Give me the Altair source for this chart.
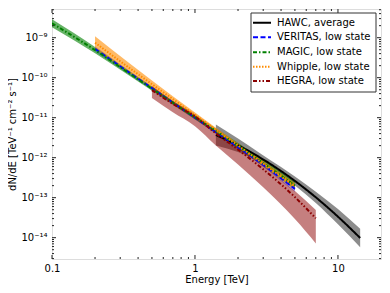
import altair as alt
import pandas as pd

# ---------------- data ----------------
names = ["HAWC, average", "VERITAS, low state", "MAGIC, low state",
         "Whipple, low state", "HEGRA, low state"]
line_colors = ["#000000", "#0000ff", "#008000", "#ff8c00", "#8b0000"]
band_colors = ["#000000", "#0000ff", "#008000", "#ff8c00", "#8b0000"]
band_opacity = [0.45, 0.3, 0.6, 0.6, 0.5]
dashes = [[1, 0], [5, 2.5], [4, 2, 1.5, 2], [1.5, 1.5], [4, 2, 1.5, 2, 1.5, 2]]

hawc_E = [1.4, 2.0, 2.85, 4.0, 5.0, 7.0, 10.0, 14.3]
hawc_F = [3.69e-12, 2.04e-12, 1.007e-12, 4.62e-13, 2.62e-13, 1.02e-13, 3.35e-14, 9.83e-15]
hawc_hi = [6.72e-12, 3.01e-12, 1.30e-12, 5.82e-13, 3.37e-13, 1.41e-13, 5.19e-14, 1.67e-14]
hawc_lo = [2.03e-12, 1.38e-12, 7.82e-13, 3.67e-13, 2.03e-13, 7.38e-14, 2.16e-14, 5.79e-15]

veritas_E = [0.2, 0.35, 0.7, 1.4, 2.8, 5.0]
veritas_F = [5.25e-10, 1.318e-10, 2.40e-11, 4.37e-12, 7.94e-13, 1.66e-13]
veritas_hi = [6.17e-10, 1.48e-10, 2.63e-11, 4.79e-12, 8.91e-13, 2.00e-13]
veritas_lo = [4.47e-10, 1.175e-10, 2.19e-11, 3.98e-12, 7.08e-13, 1.38e-13]

magic_E = [0.1, 0.2, 0.35, 0.7, 1.4, 2.8, 5.0]
magic_F = [2.29e-9, 4.90e-10, 1.259e-10, 2.37e-11, 4.68e-12, 8.71e-13, 2.00e-13]
magic_hi = [2.88e-9, 5.89e-10, 1.445e-10, 2.66e-11, 5.37e-12, 1.047e-12, 2.51e-13]
magic_lo = [1.82e-9, 4.07e-10, 1.096e-10, 2.11e-11, 4.07e-12, 7.24e-13, 1.585e-13]

whipple_E = [0.2, 0.35, 0.7, 1.4, 2.8, 5.0]
whipple_F = [7.50e-10, 1.718e-10, 2.92e-11, 5.01e-12, 8.51e-13, 1.905e-13]
whipple_hi = [1.084e-9, 2.26e-10, 3.43e-11, 5.62e-12, 9.77e-13, 2.34e-13]
whipple_lo = [5.19e-10, 1.303e-10, 2.48e-11, 4.47e-12, 7.41e-13, 1.55e-13]

hegra_E = [0.5, 0.7, 1.0, 1.4, 2.0, 3.0, 5.0, 7.0]
hegra_F = [4.90e-11, 2.22e-11, 1.069e-11, 4.05e-12, 1.592e-12, 5.13e-13, 1.033e-13, 3.05e-14]
hegra_hi = [6.17e-11, 2.61e-11, 1.199e-11, 4.54e-12, 1.828e-12, 6.31e-13, 1.459e-13, 4.95e-14]
hegra_lo = [3.09e-11, 1.368e-11, 6.15e-12, 2.03e-12, 6.79e-13, 1.82e-13, 2.91e-14, 7.16e-15]

x_major = [0.1, 1, 10]
x_minor = [0.2, 0.3, 0.4, 0.5, 0.6, 0.7, 0.8, 0.9, 2, 3, 4, 5, 6, 7, 8, 9]
y_major = [1e-14, 1e-13, 1e-12, 1e-11, 1e-10, 1e-9]
y_minor = [k * 10.0 ** n for n in range(-15, -8) for k in range(2, 10)
           if 2.93e-15 < k * 10.0 ** n < 5.2e-9]

# ---------------- layout ----------------
W, H = 329, 250
FONT = "DejaVu Sans"
AX = "#222222"

xscale = alt.Scale(type="log", domain=[0.1, 20], nice=False)
yscale = alt.Scale(type="log", domain=[2.93e-15, 5.22e-9], nice=False)

xaxis = alt.Axis(values=x_major, tickSize=0, domain=False, grid=False,
                 labelExpr="datum.value < 0.5 ? '0.1' : datum.value < 5 ? '1' : '10'",
                 labelFont=FONT, labelFontSize=10, labelColor="black", labelPadding=4,
                 labelFlush=False, title="Energy [TeV]", titleFont=FONT,
                 titleFontSize=10, titleFontWeight="normal", titleColor="black",
                 titlePadding=1)
yaxis = alt.Axis(values=y_major, tickSize=0, domain=False, grid=False,
                 labelExpr=("datum.value < 5e-14 ? '10⁻¹⁴' : datum.value < 5e-13 ? '10⁻¹³' : "
                            "datum.value < 5e-12 ? '10⁻¹²' : datum.value < 5e-11 ? '10⁻¹¹' : "
                            "datum.value < 5e-10 ? '10⁻¹⁰' : '10⁻⁹'"),
                 labelFont=FONT, labelFontSize=10, labelColor="black", labelPadding=5,
                 labelFlush=False, title="dN/dE [TeV⁻¹ cm⁻² s⁻¹]", titleFont=FONT,
                 titleFontSize=10, titleFontWeight="normal", titleColor="black",
                 titlePadding=3)

X = alt.X("E:Q", scale=xscale, axis=xaxis)

sets = [
    (hawc_E, hawc_F, hawc_lo, hawc_hi),
    (veritas_E, veritas_F, veritas_lo, veritas_hi),
    (magic_E, magic_F, magic_lo, magic_hi),
    (whipple_E, whipple_F, whipple_lo, whipple_hi),
    (hegra_E, hegra_F, hegra_lo, hegra_hi),
]

bands, lines = [], []
for i, (E, F, lo, hi) in enumerate(sets):
    df = pd.DataFrame({"E": E, "F": F, "lo": lo, "hi": hi})
    bands.append(
        alt.Chart(df).mark_area(clip=True, interpolate="monotone",
                                color=band_colors[i], opacity=band_opacity[i])
        .encode(x=X, y=alt.Y("lo:Q", scale=yscale, axis=yaxis), y2="hi:Q")
    )
    lines.append(
        alt.Chart(df).mark_line(clip=True, interpolate="monotone",
                                color=line_colors[i], strokeWidth=2,
                                strokeDash=dashes[i])
        .encode(x=X, y=alt.Y("F:Q", scale=yscale, axis=yaxis))
    )

# inward ticks on all four sides
def xticks(vals, length):
    d = pd.DataFrame({"E": vals})
    b = alt.Chart(d).mark_rule(color=AX, strokeWidth=1).encode(
        x=X, y=alt.value(H), y2=alt.value(H - length))
    t = alt.Chart(d).mark_rule(color=AX, strokeWidth=1).encode(
        x=X, y=alt.value(0), y2=alt.value(length))
    return [b, t]

def yticks(vals, length):
    d = pd.DataFrame({"F": vals})
    Y = alt.Y("F:Q", scale=yscale, axis=yaxis)
    l = alt.Chart(d).mark_rule(color=AX, strokeWidth=1).encode(
        y=Y, x=alt.value(0), x2=alt.value(length))
    r = alt.Chart(d).mark_rule(color=AX, strokeWidth=1).encode(
        y=Y, x=alt.value(W), x2=alt.value(W - length))
    return [l, r]

ticks = xticks(x_major, 4) + xticks(x_minor, 2) + yticks(y_major, 4) + yticks(y_minor, 2)

# legend (drawn as a box in the upper right)
LX0, LX1, LY0, LY1 = 199, 324, 4, 83
row_y = [13.7, 28.3, 43.3, 57.7, 72.0]
legend = [
    alt.Chart(pd.DataFrame({"a": [0]})).mark_rect(fill="white", stroke="#333333",
                                                  strokeWidth=1)
    .encode(x=alt.value(LX0), x2=alt.value(LX1), y=alt.value(LY0), y2=alt.value(LY1))
]
for i, nm in enumerate(names):
    d = pd.DataFrame({"t": [nm]})
    legend.append(
        alt.Chart(d).mark_rule(color=line_colors[i], strokeWidth=2, strokeDash=dashes[i])
        .encode(x=alt.value(LX0 + 2), x2=alt.value(LX0 + 20), y=alt.value(row_y[i]))
    )
    legend.append(
        alt.Chart(d).mark_text(align="left", baseline="middle", font=FONT, fontSize=10,
                               color="black")
        .encode(x=alt.value(LX0 + 26), y=alt.value(row_y[i]), text="t:N")
    )

chart = alt.layer(*bands, *lines, *ticks, *legend).properties(
    width=W, height=H,
    autosize=alt.AutoSizeParams(type="none"),
    padding={"left": 44, "top": 1, "right": 1, "bottom": 32},
).configure_view(stroke=AX, strokeWidth=1).configure(background="white")

chart.save("out.html", embed_options={"renderer": "svg", "actions": False})
